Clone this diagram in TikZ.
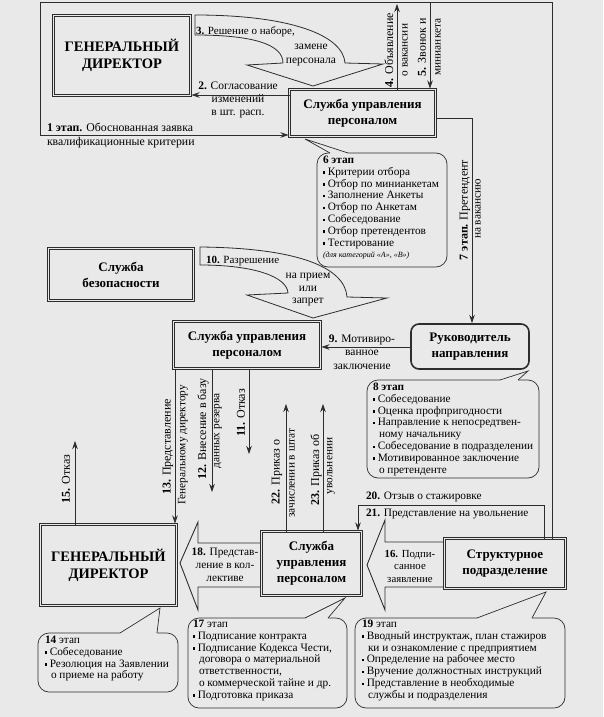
\documentclass[tikz,border=0pt]{standalone}
\usepackage{fontspec}
\setmainfont{Liberation Serif}
\usetikzlibrary{arrows.meta,calc}
\definecolor{bg}{RGB}{233,233,233}
\definecolor{ln}{RGB}{45,45,45}
\newcommand{\bul}{\raisebox{0.3ex}{\rule{2.3pt}{2.3pt}}\hspace{2.5pt}}
\newcommand{\ind}{\hspace*{6pt}}
\pgfdeclarelayer{back}
\pgfsetlayers{back,main}
\begin{document}
\begin{tikzpicture}[x=1pt,y=-1pt,
  every node/.style={inner sep=0pt,outer sep=0pt},
  lbl/.style={font=\fontsize{11.5}{12.8}\selectfont,align=center},
  vlbl/.style={font=\fontsize{12}{13}\selectfont,rotate=90},
  vsm/.style={font=\fontsize{11.3}{12.5}\selectfont,rotate=90},
  mbox/.style={draw=ln,line width=0.8pt,double=bg,double distance=1.4pt,fill=bg,align=center,font=\bfseries\fontsize{13}{16}\selectfont},
  gdbox/.style={mbox,font=\bfseries\fontsize{14.5}{17}\selectfont},
  rbox/.style={draw=ln,line width=1.6pt,rounded corners=8pt,fill=bg,align=center,font=\bfseries\fontsize{13}{16}\selectfont},
  conn/.style={draw=ln,line width=0.7pt,shorten >=1pt,-{Stealth[length=8pt,width=5.5pt]}},
  thinln/.style={draw=ln,line width=0.7pt},
  blk/.style={draw=ln,line width=0.9pt,fill=bg,line join=miter},
  cbox/.style={draw=ln,line width=0.7pt,fill=bg,rounded corners=11pt},
  ctext/.style={font=\fontsize{11.3}{11.8}\selectfont,align=left,anchor=north west},
]
\begin{pgfonlayer}{back}
\fill[bg] (0,0) rectangle (603,717);
\end{pgfonlayer}
\useasboundingbox (0,0) rectangle (603,717);

% main boxes
\node[gdbox,minimum width=137pt,minimum height=80pt] (gd1) at (122,55.5) {ГЕНЕРАЛЬНЫЙ\\ДИРЕКТОР};
\node[mbox,minimum width=146pt,minimum height=47pt] (sup1) at (362.5,113) {Служба управления\\персоналом};
\node[mbox,minimum width=145pt,minimum height=52pt] (sb) at (121,274.5) {Служба\\безопасности};
\node[mbox,minimum width=147pt,minimum height=47pt] (sup2) at (247,345) {Служба управления\\персоналом};
\node[rbox,minimum width=118pt,minimum height=45pt] (ruk) at (470,346.5) {Руководитель\\направления};
\node[gdbox,minimum width=136pt,minimum height=81pt] (gd2) at (108.5,565) {ГЕНЕРАЛЬНЫЙ\\ДИРЕКТОР};
\node[mbox,minimum width=100pt,minimum height=64pt] (sup3) at (311.5,563.5) {Служба\\управления\\персоналом};
\node[mbox,minimum width=121pt,minimum height=50pt] (str) at (505,563.5) {Структурное\\подразделение};

% block arrows (behind boxes)
\begin{pgfonlayer}{back}
\filldraw[blk] (sup3.center |- 0,543) -- (198,543) -- (198,522) -- (180,563) -- (198,610) -- (198,587) -- (sup3.center |- 0,587) -- cycle;
\filldraw[blk] (str.center |- 0,542) -- (385,542) -- (385,520) -- (367,565) -- (385,610) -- (385,587) -- (str.center |- 0,587) -- cycle;
\end{pgfonlayer}

% curved block arrows
\filldraw[blk,line width=0.8pt] (195,15) .. controls (290,15) and (343,35) .. (345,63) -- (383,64) -- (313,86) -- (247,65) -- (283,63) .. controls (283,45) and (255,35) .. (195,35) -- cycle;
\filldraw[blk,line width=0.8pt] (200,247) .. controls (300,248) and (345,268) .. (347,297) -- (387,298) -- (313,318) -- (247,295) -- (288,293) .. controls (287,277) and (255,265) .. (200,265) -- cycle;

% connectors
\draw[conn] (sup1.west |- 0,95) -- (gd1.east |- 0,95);
\draw[conn] (str.north -| 552,0) -- (552,2) -- (40,2) -- (40,135) -- (sup1.west |- 0,135);
\draw[conn] (sup1.north -| 397,0) -- (397,3);
\draw[conn] (430,2) -- (sup1.north -| 430,0);
\draw[conn] (sup1.east |- 0,118) -- (472,118) -- (ruk.north -| 472,0);
\draw[conn] (ruk.west |- 0,347) -- (sup2.east |- 0,347);
\coordinate (e11) at (249,455);
\coordinate (e12) at (212,493);
\coordinate (e15) at (75,440);
\coordinate (e22) at (286,403);
\coordinate (e23) at (323,403);
\draw[conn] (sup2.south -| e11) -- (e11);
\draw[conn] (sup2.south -| e12) -- (e12);
\draw[conn] (sup2.south -| 175,0) -- (gd2.north -| 175,0);
\draw[conn] (gd2.north -| e15) -- (e15);
\draw[conn] (sup3.north -| e22) -- (e22);
\draw[conn] (sup3.north -| e23) -- (e23);
\draw[conn] (str.north -| 544,0) -- (544,505) -- (358,505) -- (sup3.north -| 358,0);

% labels on connectors
\node[lbl,anchor=north west,align=left,font=\fontsize{11.8}{14.5}\selectfont] (l1) at (47,123) {\textbf{1 этап.} Обоснованная заявка\\квалификационные критерии};
\node[lbl,font=\fontsize{11.5}{12.8}\selectfont] (l2) at (238,100) {\textbf{2.} Согласование\\изменений\\в шт. расп.};
\node[lbl,anchor=west,font=\fontsize{11}{12}\selectfont] (l3a) at (196,32) {\textbf{3.} Решение о наборе,};
\node[lbl,font=\fontsize{11.5}{14}\selectfont] (l3b) at (311,55) {замене\\персонала};
\node[vlbl] (l4a) at (389,50) {\textbf{4.} Объявление};
\node[vsm] (l4b) at (405,50) {о вакансии};
\node[vlbl] (l5a) at (422,47) {\textbf{5.} Звонок и};
\node[vsm] (l5b) at (438,47) {минианкета};
\node[vlbl] (l7a) at (465,210) {\textbf{7 этап.} Претендент};
\node[vsm] (l7b) at (478,209) {на вакансию};
\node[lbl,font=\fontsize{11.5}{13.5}\selectfont] (l9) at (362,352) {\textbf{9.} Мотивиро-\\ванное\\заключение};
\node[lbl,anchor=west,font=\fontsize{11}{12}\selectfont] (l10a) at (206,261) {\textbf{10.} Разрешение};
\node[lbl,font=\fontsize{11.5}{12.5}\selectfont] (l10b) at (308,290) {на прием\\или\\запрет};
\node[vlbl] (l11) at (241,413) {\textbf{11.} Отказ};
\node[vlbl] (l12a) at (203,429) {\textbf{12.} Внесение в базу};
\node[vsm] (l12b) at (218,431) {данных резерва};
\node[vlbl] (l13a) at (168,447) {\textbf{13.} Представление};
\node[vsm] (l13b) at (183,445) {Генеральному директору};
\node[vlbl] (l15) at (66,479) {\textbf{15.} Отказ};
\node[vlbl] (l22a) at (277,472) {\textbf{22.} Приказ о};
\node[vsm] (l22b) at (292,473) {зачислении в штат};
\node[vlbl] (l23a) at (316,470) {\textbf{23.} Приказ об};
\node[vsm] (l23b) at (331,466) {увольнении};
\node[lbl,font=\fontsize{11.3}{13}\selectfont] (l18) at (225,565) {\textbf{18.} Представ-\\ление в кол-\\лективе};
\node[lbl,font=\fontsize{10.8}{12.5}\selectfont] (l16) at (410,566) {\textbf{16.} Подпи-\\санное\\заявление};
\node[lbl,anchor=west,font=\fontsize{11.3}{12}\selectfont] (l20) at (366,497) {\textbf{20.} Отзыв о стажировке};
\node[lbl,anchor=west,font=\fontsize{11.3}{12}\selectfont] (l21) at (366,514) {\textbf{21.} Представление на увольнение};

% callouts
\filldraw[cbox] (317,153) rectangle (447,267);
\fill[bg] (330,155) -- (330,153) -- (305,139) -- (348,153) -- (348,155) -- cycle;
\draw[thinln] (330,153) -- (305,139) -- (348,153);
\node[ctext] (t6) at (323,156) {\textbf{6 этап}\\\bul Критерии отбора\\\bul Отбор по минианкетам\\\bul Заполнение Анкеты\\\bul Отбор по Анкетам\\\bul Собеседование\\\bul Отбор претендентов\\\bul Тестирование\\{\itshape\fontsize{8}{11.8}\selectfont (для категорий «А», «В»)}};

\filldraw[cbox] (367,380) rectangle (539,478);
\fill[bg] (500,382) -- (500,380) -- (528,371) -- (518,380) -- (518,382) -- cycle;
\draw[thinln] (500,380) -- (528,371) -- (518,380);
\node[ctext] (t8) at (373,383) {\textbf{8 этап}\\\bul Собеседование\\\bul Оценка профпригодности\\\bul Направление к непосредтвен-\\\ind ному начальнику\\\bul Собеседование в подразделении\\\bul Мотивированное заключение\\\ind о претенденте};

\filldraw[cbox] (38,633) rectangle (178,692);
\fill[bg] (120,635) -- (120,633) -- (160,608) -- (157,633) -- (157,635) -- cycle;
\draw[thinln] (120,633) -- (160,608) -- (157,633);
\node[ctext] (t14) at (45,636) {\textbf{14} этап\\\bul Собеседование\\\bul Резолюция на Заявлении\\\ind о приеме на работу};

\filldraw[cbox] (188,618) rectangle (347,708);
\fill[bg] (305,620) -- (305,618) -- (345,598) -- (328,618) -- (328,620) -- cycle;
\draw[thinln] (305,618) -- (345,598) -- (328,618);
\node[ctext] (t17) at (193,620) {\textbf{17} этап\\\bul Подписание контракта\\\bul Подписание Кодекса Чести,\\\ind договора о материальной\\\ind ответственности,\\\ind о коммерческой тайне и др.\\\bul Подготовка приказа};

\filldraw[cbox] (355,618) rectangle (565,708);
\fill[bg] (477,620) -- (477,618) -- (546,592) -- (532,618) -- (532,620) -- cycle;
\draw[thinln] (477,618) -- (546,592) -- (532,618);
\node[ctext] (t19) at (362,620) {\textbf{19} этап\\\bul Вводный инструктаж, план стажиров\\\ind ки и ознакомление с предприятием\\\bul Определение на рабочее место\\\bul Вручение должностных инструкций\\\bul Представление в необходимые\\\ind службы и подразделения};
\end{tikzpicture}
\end{document}
